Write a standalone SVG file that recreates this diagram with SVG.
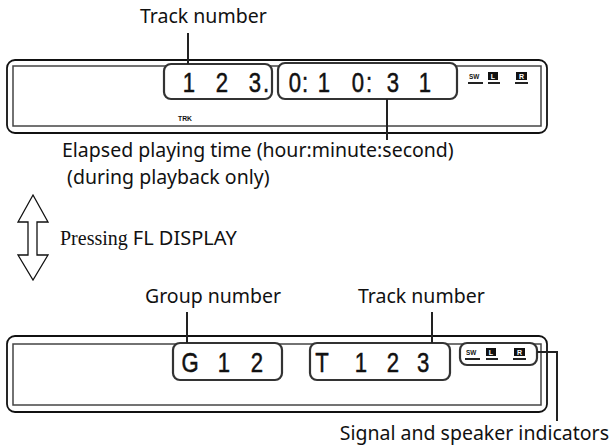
<svg xmlns="http://www.w3.org/2000/svg" width="613" height="447" viewBox="0 0 613 447">
<style>
.lbl{font-family:"Noto Sans","Open Sans",sans-serif;font-size:19.5px;fill:#111}
.dig{font-family:"Liberation Sans",Arial,sans-serif;font-size:27px;fill:#111;stroke:#111;stroke-width:0.5;text-anchor:middle}
.outer{fill:#fff;stroke:#111;stroke-width:1.8}
.inner{fill:none;stroke:#444;stroke-width:1.5}
.box{fill:#fff;stroke:#333;stroke-width:2.2}
.ln{stroke:#222;stroke-width:2;fill:none}
.sm{font-family:"Liberation Sans",Arial,sans-serif;font-weight:bold;font-size:8px;fill:#111}
.ind{fill:#111}
.indt{font-family:"Liberation Sans",Arial,sans-serif;font-weight:bold;font-size:7px;fill:#fff;text-anchor:middle}
</style>
<g id="display-top">
<rect class="outer" x="7" y="60" width="540" height="73" rx="8"/>
<rect class="inner" x="13" y="66" width="528" height="60"/>
<text class="sm" transform="translate(178,121) scale(0.85,1)">TRK</text>
</g>
<g id="track-box-top">
<rect class="box" x="164" y="64" width="108" height="35" rx="7"/>
<g transform="scale(0.82,1)"><text class="dig" x="230.5 270.7 311 324.4" y="92">123.</text></g>
</g>
<g id="time-box-top">
<rect class="box" x="278" y="63" width="179" height="36" rx="7"/>
<g transform="scale(0.82,1)"><text class="dig" x="359.8 372 395.1 436.6 450 479.3 518.3" y="92">0:10:31</text></g>
</g>
<g id="ind-top">
<text class="sm" transform="translate(469,79) scale(0.8,1)">SW</text>
<rect class="ind" x="488" y="72" width="10" height="8"/>
<text class="indt" x="493" y="79">L</text>
<rect class="ind" x="516" y="72" width="11" height="8"/>
<text class="indt" x="521.5" y="79">R</text>
<path class="ln" stroke-width="1.5" d="M468 83H483M488 83H500M515 83H528"/>
</g>
<g id="display-bottom">
<rect class="outer" x="7" y="336" width="540" height="76" rx="8"/>
<rect class="inner" x="13" y="344" width="528" height="61"/>
</g>
<g id="group-box">
<rect class="box" x="173" y="343" width="109" height="37" rx="7"/>
<g transform="scale(0.82,1)"><text class="dig" x="231.7 273.2 313.4" y="372">G12</text></g>
</g>
<g id="track-box-bottom">
<rect class="box" x="310" y="343" width="140" height="37" rx="7"/>
<g transform="scale(0.82,1)"><text class="dig" x="392.7 440.2 479.3 515.9" y="372">T123</text></g>
</g>
<g id="ind-bottom">
<rect class="box" x="460" y="343" width="77" height="22" rx="7"/>
<text class="sm" transform="translate(466,355) scale(0.8,1)">SW</text>
<rect class="ind" x="486" y="348" width="10" height="8"/>
<text class="indt" x="491" y="355">L</text>
<rect class="ind" x="514" y="348" width="11" height="8"/>
<text class="indt" x="519.5" y="355">R</text>
<path class="ln" stroke-width="1.5" d="M465 359H480M486 359H498M513 359H526"/>
</g>
<g id="arrow">
<polygon points="33,195 48,222 37,222 37,255 48,255 33,280 18,255 28,255 28,222 18,222" fill="#fff" stroke="#111" stroke-width="1.3"/>
</g>
<g id="connectors">
<path class="ln" d="M188 33V64"/>
<path class="ln" d="M387 99V140"/>
<path class="ln" d="M187 312V343"/>
<path class="ln" d="M432 312V343"/>
<path class="ln" d="M537 352H557V421"/>
</g>
<g id="labels">
<text class="lbl" x="140" y="23">Track number</text>
<text class="lbl" x="62" y="157" font-size="18.8">Elapsed playing time (hour:minute:second)</text>
<text class="lbl" x="62" y="183.5" font-size="18.8" xml:space="preserve"> (during playback only)</text>
<text x="60" y="245" font-size="20" fill="#111"><tspan font-family="'Liberation Serif',serif">Pressing </tspan><tspan font-family="'Noto Sans',sans-serif">FL DISPLAY</tspan></text>
<text class="lbl" x="145" y="303">Group number</text>
<text class="lbl" x="358" y="303">Track number</text>
<text class="lbl" x="609" y="440" text-anchor="end">Signal and speaker indicators</text>
</g>
</svg>
